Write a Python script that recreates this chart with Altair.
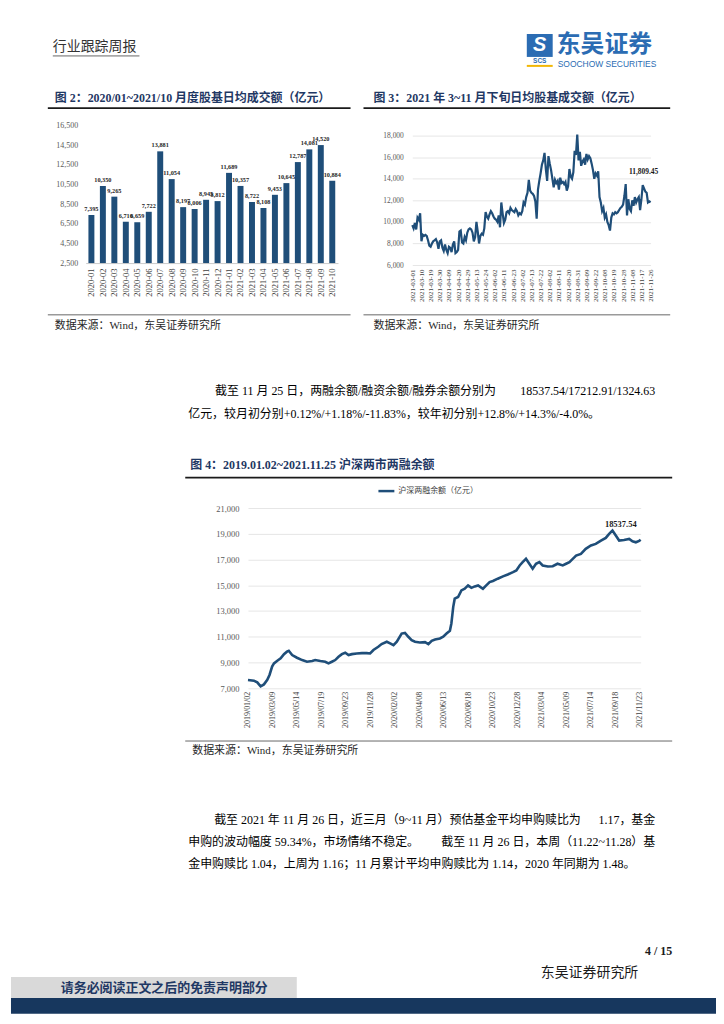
import json
import pandas as pd
import altair as alt

# ---------------- data ----------------
months2 = ['2020-01', '2020-02', '2020-03', '2020-04', '2020-05', '2020-06', '2020-07', '2020-08',
           '2020-09', '2020-10', '2020-11', '2020-12', '2021-01', '2021-02', '2021-03', '2021-04',
           '2021-05', '2021-06', '2021-07', '2021-08', '2021-09', '2021-10']
turnover2 = [7395, 10350, 9265, 6710, 6659, 7722, 13881, 11054, 8197, 8006, 8945, 8812,
             11689, 10357, 8722, 8108, 9453, 10645, 12787, 14081, 14520, 10884]

ticks3 = ['2021-03-01', '2021-03-10', '2021-03-19', '2021-03-30', '2021-04-09', '2021-04-20',
          '2021-04-29', '2021-05-13', '2021-05-24', '2021-06-02', '2021-06-11', '2021-06-23',
          '2021-07-02', '2021-07-13', '2021-07-22', '2021-08-02', '2021-08-11', '2021-08-20',
          '2021-08-31', '2021-09-09', '2021-09-22', '2021-10-08', '2021-10-19', '2021-10-28',
          '2021-11-08', '2021-11-17', '2021-11-26']
daily3 = [9700, 9400, 9900, 9300, 10400, 10200, 10800, 8200, 8800, 8700,
          8800, 8700, 8300, 7800, 7700, 8000, 8200, 8300, 8400, 8100,
          7500, 8200, 8300, 7600, 7300, 7900, 7400, 7100, 7700, 7600,
          7200, 7900, 8200, 7100, 7200, 7400, 9100, 9200, 8100, 8000,
          8600, 8300, 9000, 9300, 9400, 9300, 9000, 8200, 8600, 10000,
          9100, 8000, 8700, 8900, 8800, 9400, 10900, 10500, 10300, 10700,
          11000, 10800, 10500, 10300, 10200, 10000, 10600, 9500, 11800, 10800,
          9900, 10200, 10900, 11000, 10800, 11300, 11100, 11000, 10900, 11200,
          11000, 10600, 10800, 10700, 11000, 11800, 11600, 12300, 12700, 13900,
          12900, 12700, 12600, 12400, 11900, 10300, 13000, 13800, 14500, 15300,
          15700, 16400, 14900, 13800, 16100, 15400, 14800, 14000, 13200, 13900,
          13600, 13800, 13000, 14100, 13600, 13700, 13500, 13700, 12900, 13300,
          14900, 14200, 14000, 14600, 16600, 16200, 18100, 15700, 16500, 15200,
          15600, 15800, 15300, 16300, 15800, 16100, 15900, 15400, 14800, 14000,
          14500, 14300, 14700, 12300, 11800, 11000, 11300, 10400, 10700, 10000,
          9700, 9200, 10400, 10800, 10700, 10900, 10800, 10900, 11100, 11300,
          11400, 11600, 12400, 13500, 10600, 12100, 11200, 11000, 12000, 11500,
          12300, 11800, 12100, 12300, 11100, 12100, 13400, 13100, 12800, 12700,
          11800, 11900, 11809.45]

ticks4 = ['2019/01/02', '2019/03/09', '2019/05/14', '2019/07/19', '2019/09/23', '2019/11/28',
          '2020/02/02', '2020/04/08', '2020/06/13', '2020/08/18', '2020/10/23', '2020/12/28',
          '2021/03/04', '2021/05/09', '2021/07/14', '2021/09/18', '2021/11/23']
dates4 = ['2019-01-02', '2019-01-18', '2019-01-27', '2019-02-05', '2019-02-14', '2019-02-23',
          '2019-03-01', '2019-03-08', '2019-03-13', '2019-03-22', '2019-03-31', '2019-04-09',
          '2019-04-17', '2019-04-22', '2019-05-01', '2019-05-14', '2019-05-28', '2019-06-10',
          '2019-06-24', '2019-07-02', '2019-07-16', '2019-07-29', '2019-08-07', '2019-08-16',
          '2019-08-25', '2019-09-03', '2019-09-12', '2019-09-21', '2019-09-30', '2019-10-09',
          '2019-10-22', '2019-11-05', '2019-11-18', '2019-11-27', '2019-12-06', '2019-12-19',
          '2019-12-28', '2020-01-11', '2020-01-20', '2020-01-29', '2020-02-07', '2020-02-20',
          '2020-02-29', '2020-03-09', '2020-03-18', '2020-03-27', '2020-04-09', '2020-04-23',
          '2020-05-02', '2020-05-11', '2020-05-20', '2020-06-02', '2020-06-11', '2020-06-20',
          '2020-06-29', '2020-07-03', '2020-07-08', '2020-07-12', '2020-07-21', '2020-07-30',
          '2020-08-08', '2020-08-17', '2020-08-26', '2020-09-04', '2020-09-13', '2020-09-26',
          '2020-10-05', '2020-10-14', '2020-10-23', '2020-11-05', '2020-11-19', '2020-12-02',
          '2020-12-16', '2020-12-25', '2021-01-03', '2021-01-11', '2021-01-20', '2021-01-29',
          '2021-02-07', '2021-02-16', '2021-02-25', '2021-03-06', '2021-03-20', '2021-04-02',
          '2021-04-15', '2021-04-29', '2021-05-08', '2021-05-17', '2021-05-26', '2021-06-04',
          '2021-06-17', '2021-06-30', '2021-07-14', '2021-07-27', '2021-08-10', '2021-08-23',
          '2021-09-01', '2021-09-10', '2021-09-19', '2021-09-28', '2021-10-11', '2021-10-25',
          '2021-11-03', '2021-11-12', '2021-11-21', '2021-11-25']
margin4 = [7640, 7590, 7460, 7150, 7300, 7650,
           8030, 8680, 8930, 9140, 9320, 9650,
           9840, 9910, 9580, 9370, 9190, 9060,
           9110, 9190, 9110, 9060, 8930, 9060,
           9190, 9450, 9650, 9760, 9580, 9650,
           9700, 9730, 9730, 9700, 9970, 10220,
           10430, 10610, 10480, 10350, 10610, 11250,
           11300, 11000, 10740, 10610, 10560, 10580,
           10430, 10690, 10790, 10870, 11000, 11250,
           11460, 12030, 13320, 13960, 14090, 14600,
           14730, 14990, 14800, 14910, 14990, 14730,
           14990, 15250, 15330, 15510, 15690, 15840,
           16020, 16150, 16540, 16800, 17050, 16670,
           16280, 16670, 16800, 16540, 16460, 16480,
           16670, 16540, 16670, 16800, 17050, 17310,
           17440, 17830, 18090, 18210, 18470, 18680,
           18990, 19250, 18860, 18470, 18520, 18600,
           18420, 18340, 18450, 18537.54]

# ---------------- styles ----------------
BLUE = '#1F4E79'
NAVY = '#1F3864'
LOGO = '#2B6CB3'
GREY = '#595959'
SERIF = 'Liberation Serif, Noto Sans CJK SC'
CJK = 'Noto Sans CJK SC'
OFF = 8
PW, PH = 708, 1008


def cx(v):
    return max(0, min(PW, v - OFF))


def cy(v):
    return max(0, min(PH, v - OFF))


def tx(s, x, y, size, color='#000000', weight='normal', font=SERIF, align='left', italic=False):
    df = pd.DataFrame({'t': [s], 'x': [x - OFF], 'y': [y - OFF]})
    kw = dict(align=align, baseline='middle', fontSize=size, fontWeight=weight, font=font, color=color)
    if italic:
        kw['fontStyle'] = 'italic'
    return alt.Chart(df).mark_text(**kw).encode(
        x=alt.X('x:Q', scale=None), y=alt.Y('y:Q', scale=None), text='t:N')


# page decorations (reference pixel coordinates)
rect_rows = [
    (0, 724, 0, 1024, '#FFFFFF'),
    (0, 295, 979, 1000, '#D9D9D9'),
    (0, 724, 1000, 1024, '#17375E'),
    (526, 552, 32, 55, LOGO),
]
rects = pd.DataFrame({
    'x': [cx(r[0]) for r in rect_rows], 'x2': [cx(r[1]) for r in rect_rows],
    'y': [cy(r[2]) for r in rect_rows], 'y2': [cy(r[3]) for r in rect_rows],
    'c': [r[4] for r in rect_rows]})
rect_layer = alt.Chart(rects).mark_rect().encode(
    x=alt.X('x:Q', scale=None), x2='x2:Q', y=alt.Y('y:Q', scale=None), y2='y2:Q',
    color=alt.Color('c:N', scale=None))

rule_rows = [
    (50, 137, 54, 0.8, '#404040'),
    (45, 349, 106.5, 1.8, '#1A1A1A'),
    (362, 670, 106.5, 1.8, '#1A1A1A'),
    (45, 349, 314, 0.8, '#404040'),
    (362, 670, 314, 0.8, '#404040'),
    (183, 672, 477.5, 1.8, '#1A1A1A'),
    (183, 672, 742, 0.8, '#404040'),
    (377, 393, 491, 2.5, BLUE),
    (526, 552, 64, 2, '#F2B705'),
]
rules = pd.DataFrame({
    'x': [cx(r[0]) for r in rule_rows], 'x2': [cx(r[1]) for r in rule_rows],
    'y': [cy(r[2]) for r in rule_rows], 'w': [r[3] for r in rule_rows],
    'c': [r[4] for r in rule_rows]})
rule_layer = alt.Chart(rules).mark_rule().encode(
    x=alt.X('x:Q', scale=None), x2='x2:Q', y=alt.Y('y:Q', scale=None),
    size=alt.Size('w:Q', scale=None), color=alt.Color('c:N', scale=None))

texts = [
    tx('行业跟踪周报', 50, 45, 14, '#333333', font=CJK),
    tx('东吴证券', 556, 43, 24, LOGO, 'bold', CJK),
    tx('SOOCHOW SECURITIES', 557, 62, 8.5, LOGO, font='Liberation Sans Narrow, Liberation Sans'),
    tx('S', 539, 43.5, 20, '#FFFFFF', 'bold', 'Liberation Sans', 'center', italic=True),
    tx('SCS', 539, 59, 6.5, LOGO, 'bold', 'Liberation Sans', 'center'),
    tx('图 2：2020/01~2021/10 月度股基日均成交额（亿元）', 52, 96, 12, NAVY, 'bold'),
    tx('图 3：2021 年 3~11 月下旬日均股基成交额（亿元）', 372, 96, 12, NAVY, 'bold'),
    tx('数据来源：Wind，东吴证券研究所', 52, 325, 11, '#262626'),
    tx('数据来源：Wind，东吴证券研究所', 372, 325, 11, '#262626'),
    tx('截至 11 月 25 日，两融余额/融资余额/融券余额分别为', 213, 391, 12),
    tx('18537.54/17212.91/1324.63', 655, 391, 12, align='right'),
    tx('亿元，较月初分别+0.12%/+1.18%/-11.83%，较年初分别+12.8%/+14.3%/-4.0%。', 186, 413.5, 12),
    tx('图 4：2019.01.02~2021.11.25 沪深两市两融余额', 188, 465, 12, NAVY, 'bold'),
    tx('沪深两融余额（亿元）', 397, 491, 8, '#404040', font=CJK),
    tx('数据来源：Wind，东吴证券研究所', 190, 752, 11, '#262626'),
    tx('截至 2021 年 11 月 26 日，近三月（9~11 月）预估基金平均申购赎比为', 212, 821, 12),
    tx('1.17，基金', 655, 821, 12, align='right'),
    tx('申购的波动幅度 59.34%，市场情绪不稳定。', 186, 843.5, 12),
    tx('截至 11 月 26 日，本周（11.22~11.28）基', 655, 843.5, 12, align='right'),
    tx('金申购赎比 1.04，上周为 1.16；11 月累计平均申购赎比为 1.14，2020 年同期为 1.48。', 186, 866, 12),
    tx('4 / 15', 672, 953, 12, '#1A1A1A', 'bold', align='right'),
    tx('东吴证券研究所', 540, 975, 14, '#1A1A1A', font=CJK),
    tx('请务必阅读正文之后的免责声明部分', 58, 990, 13, NAVY, 'bold', CJK),
]
page = alt.layer(rect_layer, rule_layer, *texts).properties(width=PW, height=116)

# ---------------- chart 2: monthly bars ----------------
df2 = pd.DataFrame({'m': months2, 'v': turnover2})
x2 = alt.X('m:N', sort=None, scale=alt.Scale(paddingInner=0.48, paddingOuter=0.24),
           axis=alt.Axis(labelAngle=270, labelFont=SERIF, labelFontSize=8.5, labelColor='#404040',
                         labelPadding=5, ticks=False, domain=True, domainColor='#BFBFBF',
                         domainWidth=0.8, labelOverlap=False, title=None))
y2 = alt.Y('v:Q', scale=alt.Scale(domain=[2500, 16500], nice=False, zero=False),
           axis=alt.Axis(values=list(range(2500, 16501, 2000)), format=',.0f', grid=False,
                         domain=False, ticks=False, labelPadding=8, labelFont=SERIF,
                         labelFontSize=8, labelColor=GREY, title=None))
bars2 = alt.Chart(df2).mark_bar(color=BLUE).encode(x=x2, y=y2, y2=alt.datum(2500))
lab2 = alt.Chart(df2).mark_text(baseline='bottom', dy=-3, font=SERIF, fontWeight='bold',
                                fontSize=6.3, color='#262626').encode(
    x=x2, y=y2, text=alt.Text('v:Q', format=',.0f'))
c2 = alt.layer(bars2, lab2).properties(width=253.4, height=138)

# ---------------- chart 3: daily line ----------------
df3 = pd.DataFrame({'i': list(range(len(daily3))), 'v': daily3})
last3 = df3.tail(1).assign(t=[f"{daily3[-1]:,.2f}"])
x3 = alt.X('i:Q', scale=alt.Scale(domain=[0, len(daily3) - 1], nice=False, zero=False),
           axis=alt.Axis(values=list(range(0, len(daily3), 7)),
                         labelExpr=f"{json.dumps(ticks3)}[round(datum.value/7)]",
                         labelAngle=270, labelFont=SERIF, labelFontSize=7, labelColor='#404040',
                         labelPadding=4, ticks=False, domain=False, grid=False,
                         labelOverlap=False, labelFlush=False, title=None))
y3 = alt.Y('v:Q', scale=alt.Scale(domain=[6000, 18000], nice=False, zero=False),
           axis=alt.Axis(values=list(range(6000, 18001, 2000)), format=',.0f', grid=True,
                         gridColor='#E6E6E6', gridWidth=1, domain=False, ticks=False,
                         labelPadding=9, labelFont=SERIF, labelFontSize=7.5, labelColor=GREY,
                         title=None))
line3 = alt.Chart(df3).mark_line(color=BLUE, strokeWidth=2.2).encode(x=x3, y=y3)
ann3 = alt.Chart(last3).mark_text(dx=-7, dy=-30, font=SERIF, fontWeight='bold', fontSize=7.5,
                                  color='#1A1A1A').encode(x=x3, y=y3, text='t:N')
c3 = alt.layer(line3, ann3).properties(width=239.3, height=130)

# ---------------- chart 4: margin balance ----------------
d0 = pd.Timestamp('2019-01-02')
df4 = pd.DataFrame({'d': (pd.to_datetime(dates4) - d0).days, 'v': margin4})
last4 = df4.tail(1).assign(t=[f"{margin4[-1]:.2f}"])
x4 = alt.X('d:Q', scale=alt.Scale(domain=[0, 1058], nice=False, zero=False),
           axis=alt.Axis(values=[66 * k for k in range(len(ticks4))],
                         labelExpr=f"{json.dumps(ticks4)}[round(datum.value/66)]",
                         labelAngle=270, labelFont=SERIF, labelFontSize=8, labelColor='#404040',
                         labelPadding=3, ticks=False, domain=False, grid=False,
                         labelOverlap=False, labelFlush=False, title=None))
y4 = alt.Y('v:Q', scale=alt.Scale(domain=[7000, 21000], nice=False, zero=False),
           axis=alt.Axis(values=list(range(7000, 21001, 2000)), format=',.0f', grid=True,
                         gridColor='#E6E6E6', gridWidth=1, domain=False, ticks=False,
                         labelPadding=9, labelFont=SERIF, labelFontSize=8.5, labelColor=GREY,
                         title=None))
line4 = alt.Chart(df4).mark_line(color=BLUE, strokeWidth=2.6).encode(x=x4, y=y4)
ann4 = alt.Chart(last4).mark_text(dx=-20, dy=-16, font=SERIF, fontWeight='bold', fontSize=8.5,
                                  color='#1A1A1A').encode(x=x4, y=y4, text='t:N')
c4 = alt.layer(line4, ann4).properties(width=394.35, height=181)


def spacer(w, h):
    return alt.Chart(pd.DataFrame({'z': [0]})).mark_point(opacity=0).encode(
        x=alt.value(0), y=alt.value(0)).properties(width=w, height=h)


row1 = alt.hconcat(spacer(75, 1), c2, spacer(73.6, 1),
                   alt.vconcat(spacer(239.3, 9.3), c3, spacing=0, bounds='flush'),
                   spacing=0, bounds='flush')
row3 = alt.hconcat(spacer(237.7, 1), c4, spacing=0, bounds='flush')

# the nested row1 contributes no height in a flush layout, so the gap spans to chart 4's top
chart = alt.vconcat(page, row1, spacer(1, 383.3), row3, spacing=0, bounds='flush').properties(
    padding=0, background='white').configure_view(strokeWidth=0)

chart.save('out.html', embed_options={'renderer': 'svg', 'actions': False})
